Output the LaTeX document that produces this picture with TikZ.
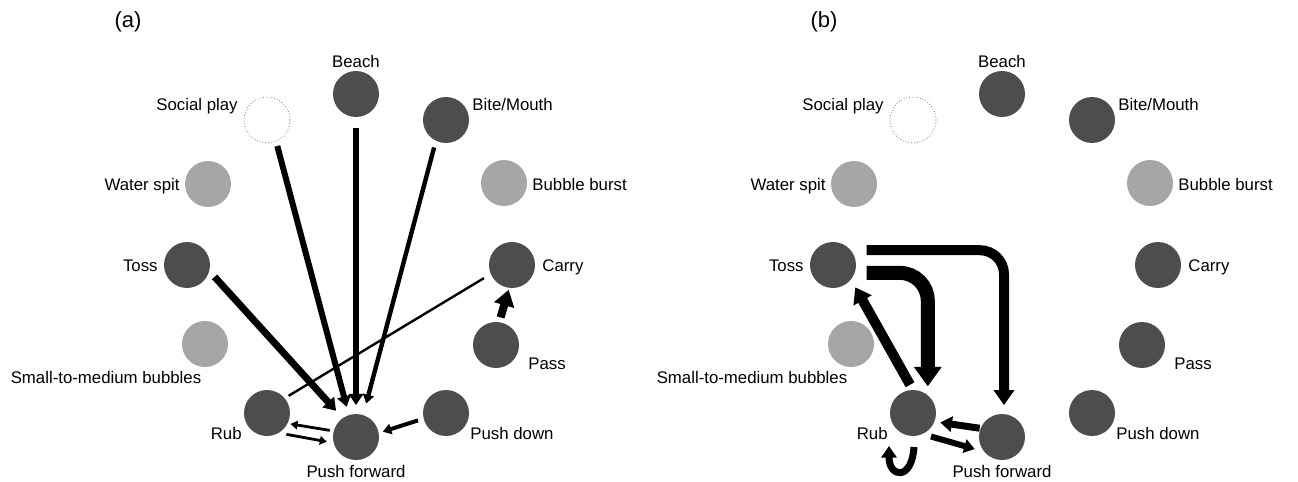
\documentclass[tikz,border=0pt]{standalone}
\usepackage{fontspec}
\setmainfont{Liberation Sans}
\usetikzlibrary{arrows.meta}
\definecolor{dkgrey}{HTML}{4D4D4D}
\definecolor{ltgrey}{HTML}{A6A6A6}
\tikzstyle{beh} = [circle, fill=dkgrey, minimum size=23pt, inner sep=0pt, outer sep=0pt]
\tikzstyle{rare} = [beh, fill=ltgrey]
\tikzstyle{absent} = [beh, fill=white, draw=gray, densely dotted, line width=0.4pt]
\tikzstyle{lbl} = [font=\fontsize{8.4}{10}\selectfont, inner sep=1pt, text height=6pt, text depth=0pt]
\tikzstyle{tag} = [font=\fontsize{11}{13}\selectfont, inner sep=0pt]
\tikzstyle{link} = [draw, -{Triangle[length=2pt 1.1, width=2pt 1.6]}]

\begin{document}
\begin{tikzpicture}[x=0.5pt, y=-0.5pt]
	\useasboundingbox (0,0) rectangle (1298,482);

	% (a)
	\node [tag] (tag-a) at (128,22) {(a)};

	\node [absent] (soc) at (267,120) {};
	\node [beh] (beach) at (356,94) {};
	\node [beh] (bite) at (446,120) {};
	\node [rare] (spit) at (208,184) {};
	\node [rare] (burst) at (504,183) {};
	\node [beh] (toss) at (187,265) {};
	\node [beh] (carry) at (512,265) {};
	\node [rare] (bubbles) at (205,344) {};
	\node [beh] (pass) at (496,345) {};
	\node [beh] (rub) at (267,413) {};
	\node [beh] (pushd) at (446,413) {};
	\node [beh] (pushf) at (356,437) {};

	\node [lbl] (l-beach) at (356,62) {Beach};
	\node [lbl, anchor=east] (l-soc) at (240,104) {Social play};
	\node [lbl, anchor=west] (l-bite) at (470,104) {Bite/Mouth};
	\node [lbl, anchor=east] (l-spit) at (182,184) {Water spit};
	\node [lbl, anchor=west] (l-burst) at (530,184) {Bubble burst};
	\node [lbl, anchor=east] (l-toss) at (160,265) {Toss};
	\node [lbl, anchor=west] (l-carry) at (540,265) {Carry};
	\node [lbl] (l-bubbles) at (106,377) {Small-to-medium bubbles};
	\node [lbl, anchor=west] (l-pass) at (526,363) {Pass};
	\node [lbl, anchor=east] (l-rub) at (244,433) {Rub};
	\node [lbl, anchor=west] (l-pushd) at (468,433) {Push down};
	\node [lbl] (l-pushf) at (356,471) {Push forward};

	\path [link, line width=3pt, shorten <=2.5pt, shorten >=4.3pt] (soc.-67) -- (pushf.108);
	\path [link, line width=3.2pt, shorten <=5.5pt, shorten >=4.5pt] (beach.-90) -- (pushf.90);
	\path [link, line width=2.2pt, shorten <=3.5pt, shorten >=6pt] (bite.-116) -- (pushf.72);
	\path [link, line width=3.5pt, shorten <=4pt, shorten >=5pt] (toss.-15) -- (pushf.125);
	\path [draw, line width=1.2pt, shorten <=4pt, shorten >=2.3pt] (carry.-157.5) -- (rub.40.6);
	\path [link, line width=4pt, shorten <=2.5pt, shorten >=1pt, -{Triangle[length=8pt, width=10pt]}] (pass.82) -- (carry.-97);
	\path [link, line width=2pt, shorten <=3pt, shorten >=2.2pt] (pushd.-166) -- (pushf.10.5);
	\path [link, line width=1.4pt, shorten <=2pt, shorten >=1.5pt] (pushf.165) -- (rub.-27.5);
	\path [link, line width=1.4pt, shorten <=4pt, shorten >=3.5pt] (rub.-60) -- (pushf.-165);

	% (b)
	\node [tag] (tag-b) at (824,22) {(b)};

	\begin{scope}[xshift=323pt]
		\node [absent] (soc2) at (267,120) {};
		\node [beh] (beach2) at (356,94) {};
		\node [beh] (bite2) at (446,120) {};
		\node [rare] (spit2) at (208,184) {};
		\node [rare] (burst2) at (504,183) {};
		\node [beh] (toss2) at (187,265) {};
		\node [beh] (carry2) at (512,265) {};
		\node [rare] (bubbles2) at (205,344) {};
		\node [beh] (pass2) at (496,345) {};
		\node [beh] (rub2) at (267,413) {};
		\node [beh] (pushd2) at (446,413) {};
		\node [beh] (pushf2) at (356,437) {};

		\node [lbl] (l-beach2) at (356,62) {Beach};
		\node [lbl, anchor=east] (l-soc2) at (240,104) {Social play};
		\node [lbl, anchor=west] (l-bite2) at (470,104) {Bite/Mouth};
		\node [lbl, anchor=east] (l-spit2) at (182,184) {Water spit};
		\node [lbl, anchor=west] (l-burst2) at (530,184) {Bubble burst};
		\node [lbl, anchor=east] (l-toss2) at (160,265) {Toss};
		\node [lbl, anchor=west] (l-carry2) at (540,265) {Carry};
		\node [lbl] (l-bubbles2) at (106,377) {Small-to-medium bubbles};
		\node [lbl, anchor=west] (l-pass2) at (526,363) {Pass};
		\node [lbl, anchor=east] (l-rub2) at (244,433) {Rub};
		\node [lbl, anchor=west] (l-pushd2) at (468,433) {Push down};
		\node [lbl] (l-pushf2) at (356,471) {Push forward};
	\end{scope}

	\path [link, line width=5pt, rounded corners=12pt, shorten <=8pt, shorten >=4.5pt] (toss2.40) -| (pushf2.85);
	\path [link, line width=7pt, rounded corners=14pt, shorten <=6pt, shorten >=4.5pt] (toss2.-20) -| (rub2.50);
	\path [link, line width=5pt, shorten <=3pt, shorten >=4.5pt] (rub2.90) -- (toss2.-39);
	\path [link, line width=3.5pt, shorten <=0.5pt, shorten >=3pt] (pushf2.158) -- (rub2.-22);
	\path [link, line width=3pt, shorten <=4.5pt, shorten >=5pt] (rub2.-66) -- (pushf2.-140);
	\path [link, line width=3.5pt] ([shift={(1,34)}]rub2.center) .. controls +(-2,34) and +(0,32) .. ([shift={(-24,33)}]rub2.center);
\end{tikzpicture}
\end{document}
